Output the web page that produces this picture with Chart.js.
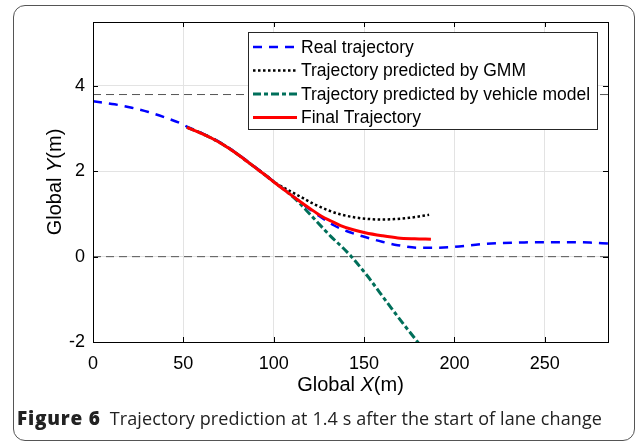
<!DOCTYPE html>
<html>
<head>
<meta charset="utf-8">
<title>Trajectory prediction</title>
<script src="https://cdn.jsdelivr.net/npm/chart.js"></script>
<style>
  body { margin: 0; width: 637px; height: 441px; background: #fff; overflow: hidden; position: relative; }
  #frame { position: absolute; left: 13px; top: 5px; width: 622px; height: 436px; border: 1px solid #555; border-radius: 12px; box-sizing: border-box; }
  #chart { position: absolute; left: 0; top: 0; }
  #caption { position: absolute; left: 17px; top: 405px; font-family: "Open Sans", sans-serif; font-size: 18px; letter-spacing: 0.1px; color: #222; white-space: nowrap; }
  #caption b { font-size: 19px; font-weight: 800; letter-spacing: 0.8px; margin-right: 9px; }
</style>
</head>
<body>
<div id="frame"></div>
<canvas id="chart" width="637" height="441"></canvas>
<div id="caption"><b>Figure 6</b>Trajectory prediction at 1.4 s after the start of lane change</div>

<script>
  // values (X in m, Y in m)
  const realX = [0, 12, 21.5, 30.7, 40, 49.3, 52, 59, 66, 73, 80, 86, 91, 96, 101, 107, 113, 118.7, 126, 133.5, 141, 150.6, 160, 168.6, 180, 189, 197, 208, 217, 226, 235.5, 245, 255.6, 265, 275, 285];
  const realY = [3.64, 3.57, 3.49, 3.39, 3.26, 3.11, 3.05, 2.92, 2.78, 2.61, 2.41, 2.22, 2.06, 1.90, 1.73, 1.54, 1.34, 1.15, 0.93, 0.73, 0.59, 0.46, 0.35, 0.27, 0.21, 0.21, 0.22, 0.26, 0.30, 0.32, 0.33, 0.34, 0.34, 0.34, 0.33, 0.31];

  const gmmX = [52, 59, 66, 73, 80, 86, 91, 96, 101, 105, 109.4, 115, 122.4, 130, 137, 145, 152, 160, 167, 175, 186];
  const gmmY = [3.03, 2.91, 2.77, 2.60, 2.40, 2.21, 2.05, 1.89, 1.73, 1.63, 1.53, 1.40, 1.23, 1.09, 0.99, 0.92, 0.885, 0.87, 0.88, 0.91, 0.98];

  const vehX = [52, 59, 66, 73, 80, 86, 91, 96, 101, 104, 108.5, 113.2, 118, 122.4, 127, 131.7, 137.5, 143, 152, 158.5, 165, 172, 181];
  const vehY = [3.03, 2.91, 2.77, 2.60, 2.40, 2.21, 2.05, 1.89, 1.72, 1.63, 1.48, 1.30, 1.09, 0.89, 0.68, 0.47, 0.24, 0.0, -0.46, -0.83, -1.20, -1.59, -2.07];

  const finalX = [52, 59, 66, 73, 80, 86, 91, 96, 101, 107, 113, 120, 126, 132, 137, 144, 150.6, 160, 168.7, 178, 187];
  const finalY = [3.03, 2.91, 2.77, 2.60, 2.40, 2.21, 2.05, 1.89, 1.72, 1.53, 1.34, 1.13, 0.96, 0.83, 0.73, 0.63, 0.56, 0.49, 0.44, 0.42, 0.41];

  // lane boundaries
  const laneX = [0, 285];
  const laneY = [3.8, 0];

  const xTicks = [0, 50, 100, 150, 200, 250];
  const yTicks = [-2, 0, 2, 4];

  const seriesNames = ['Real trajectory', 'Trajectory predicted by GMM', 'Trajectory predicted by vehicle model', 'Final Trajectory'];

  function pts(xs, ys) {
    return xs.map((x, i) => ({ x: x, y: ys[i] }));
  }

  const fontName = '"Liberation Sans", Arial, sans-serif';
  const vehDash = [8, 3, 4, 3];

  const legendItems = [
    { label: seriesNames[0], color: '#0000ff', width: 2.5, dash: [9, 7] },
    { label: seriesNames[1], color: '#000000', width: 2.5, dash: [2.5, 2.5] },
    { label: seriesNames[2], color: '#006f5a', width: 3, dash: vehDash },
    { label: seriesNames[3], color: '#ff0000', width: 3, dash: [] }
  ];

  function drawParts(ctx, parts, cx, cy) {
    let total = 0;
    parts.forEach(p => {
      ctx.font = (p.italic ? 'italic ' : '') + '20px ' + fontName;
      p.w = ctx.measureText(p.text).width;
      total += p.w;
    });
    let x = cx - total / 2;
    parts.forEach(p => {
      ctx.font = (p.italic ? 'italic ' : '') + '20px ' + fontName;
      ctx.fillText(p.text, x, cy);
      x += p.w;
    });
  }

  const matlabAxes = {
    id: 'matlabAxes',
    afterDatasetsDraw(chart) {
      const { ctx, chartArea: a, scales } = chart;
      const sx = scales.x, sy = scales.y;
      ctx.save();
      ctx.strokeStyle = '#000';
      ctx.lineWidth = 1;
      ctx.setLineDash([]);
      ctx.strokeRect(Math.round(a.left) + 0.5, Math.round(a.top) + 0.5, Math.round(a.right - a.left), Math.round(a.bottom - a.top));

      // inward tick marks on all four sides
      ctx.beginPath();
      xTicks.forEach(v => {
        const px = Math.round(sx.getPixelForValue(v)) + 0.5;
        ctx.moveTo(px, a.bottom); ctx.lineTo(px, a.bottom - 5);
        ctx.moveTo(px, a.top); ctx.lineTo(px, a.top + 5);
      });
      yTicks.forEach(v => {
        const py = Math.round(sy.getPixelForValue(v)) + 0.5;
        ctx.moveTo(a.left, py); ctx.lineTo(a.left + 5, py);
        ctx.moveTo(a.right, py); ctx.lineTo(a.right - 5, py);
      });
      ctx.stroke();

      // legend box
      const lx = 248.5, ly = 32.5, lw = 349, lh = 97;
      ctx.fillStyle = '#fff';
      ctx.fillRect(lx, ly, lw, lh);
      ctx.strokeStyle = '#262626';
      ctx.strokeRect(lx, ly, lw, lh);
      ctx.font = '17.5px ' + fontName;
      ctx.textBaseline = 'middle';
      ctx.textAlign = 'left';
      legendItems.forEach((it, i) => {
        const yy = 47 + i * 23.5;
        ctx.beginPath();
        ctx.strokeStyle = it.color;
        ctx.lineWidth = it.width;
        ctx.setLineDash(it.dash);
        ctx.moveTo(253, yy);
        ctx.lineTo(297, yy);
        ctx.stroke();
        ctx.fillStyle = '#000';
        ctx.fillText(it.label, 301, yy + 1);
      });
      ctx.setLineDash([]);

      // axis titles
      ctx.fillStyle = '#000';
      ctx.textAlign = 'left';
      ctx.textBaseline = 'middle';
      drawParts(ctx, [{ text: 'Global ' }, { text: 'X', italic: true }, { text: '(m)' }], (a.left + a.right) / 2, 385);
      ctx.save();
      ctx.translate(55, (a.top + a.bottom) / 2);
      ctx.rotate(-Math.PI / 2);
      drawParts(ctx, [{ text: 'Global ' }, { text: 'Y', italic: true }, { text: '(m)' }], 0, 0);
      ctx.restore();
      ctx.restore();
    }
  };

  const lineStyle = { showLine: true, pointRadius: 0, fill: false, cubicInterpolationMode: 'monotone', borderCapStyle: 'butt' };

  new Chart(document.getElementById('chart').getContext('2d'), {
    type: 'scatter',
    data: {
      datasets: [
        Object.assign({ label: seriesNames[3], data: pts(finalX, finalY), borderColor: '#ff0000', borderWidth: 3 }, lineStyle),
        Object.assign({ label: seriesNames[2], data: pts(vehX, vehY), borderColor: '#006f5a', borderWidth: 3, borderDash: vehDash }, lineStyle),
        Object.assign({ label: seriesNames[1], data: pts(gmmX, gmmY), borderColor: '#000000', borderWidth: 2.5, borderDash: [2.5, 2.5] }, lineStyle),
        Object.assign({ label: seriesNames[0], data: pts(realX, realY), borderColor: '#0000ff', borderWidth: 2.5, borderDash: [9, 7] }, lineStyle),
        Object.assign({ label: 'lane', data: pts(laneX, [laneY[0], laneY[0]]), borderColor: '#555', borderWidth: 1, borderDash: [8, 5] }, lineStyle),
        Object.assign({ label: 'lane', data: pts(laneX, [laneY[1], laneY[1]]), borderColor: '#555', borderWidth: 1, borderDash: [8, 5] }, lineStyle)
      ]
    },
    options: {
      responsive: false,
      animation: false,
      devicePixelRatio: 1,
      layout: { padding: { left: 0, top: 22, right: 29, bottom: 0 } },
      plugins: { legend: { display: false }, tooltip: { enabled: false } },
      scales: {
        x: {
          type: 'linear', min: 0, max: 285,
          afterBuildTicks: s => { s.ticks = xTicks.map(v => ({ value: v })); },
          afterFit: s => { s.height = 99; },
          grid: { color: '#e3e3e3', drawTicks: false },
          border: { display: false },
          ticks: { color: '#000', padding: 11, font: { family: fontName, size: 18 } }
        },
        y: {
          type: 'linear', min: -2, max: 5.5,
          afterBuildTicks: s => { s.ticks = yTicks.map(v => ({ value: v })); },
          afterFit: s => { s.width = 93; },
          grid: { color: '#e3e3e3', drawTicks: false },
          border: { display: false },
          ticks: { color: '#000', padding: 8, font: { family: fontName, size: 18 } }
        }
      }
    },
    plugins: [matlabAxes]
  });
</script>
</body>
</html>
